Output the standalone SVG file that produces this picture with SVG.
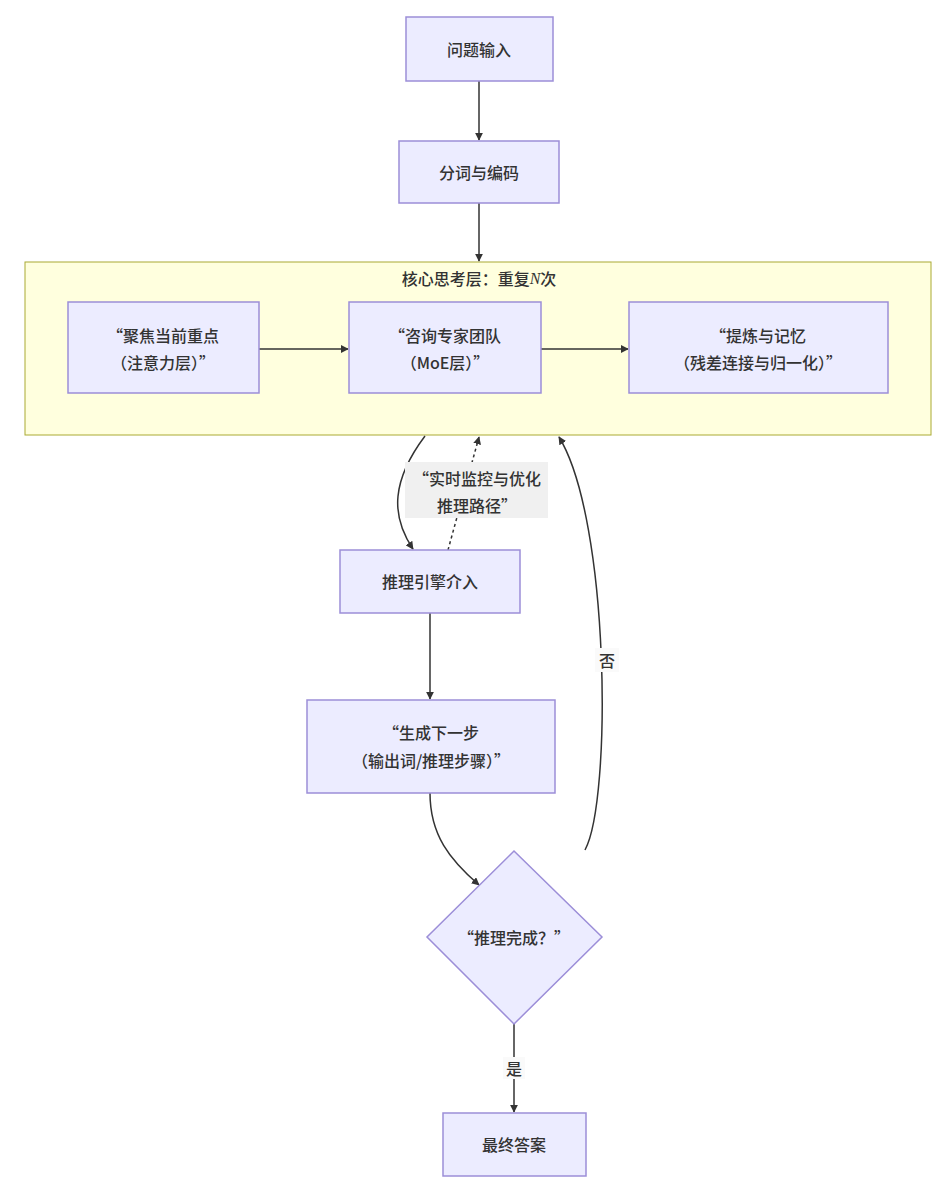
<svg xmlns="http://www.w3.org/2000/svg" width="945" height="1195" viewBox="0 0 945 1195">
<defs>
<marker id="arr" viewBox="0 0 10 10" refX="9" refY="5" markerWidth="8" markerHeight="8" markerUnits="userSpaceOnUse" orient="auto"><path d="M0,0 L10,5 L0,10 z" fill="#333"/></marker>
<style>
.node{fill:#ECECFF;stroke:#9c8ed8;stroke-width:1.5}
.t{font-family:"Noto Sans CJK SC","Noto Sans",sans-serif;font-size:16px;font-weight:500;fill:#333;text-anchor:middle;dominant-baseline:central}
.e{fill:none;stroke:#333;stroke-width:1.5}
.lbl{fill:#f0f0f0}
.lbl2{fill:#fafafa}
</style>
</defs>
<rect width="945" height="1195" fill="#fff"/>
<g id="cluster">
<rect x="25" y="262" width="906" height="173" fill="#ffffde" stroke="#aaaa33" stroke-width="1"/>
<text class="t" x="479" y="278">核心思考层：重复<tspan font-family="Liberation Serif,serif" font-style="italic">N</tspan>次</text>
</g>
<g id="edges">
<path class="e" d="M479,81 L479,140" marker-end="url(#arr)"/>
<path class="e" d="M479,203 L479,261" marker-end="url(#arr)"/>
<path class="e" d="M259,349 L348,349" marker-end="url(#arr)"/>
<path class="e" d="M541,349 L628,349" marker-end="url(#arr)"/>
<path class="e" d="M425,436 C392,480 390,515 413,549" marker-end="url(#arr)"/>
<path class="e" d="M448,550 L479,437" stroke-dasharray="3,3" marker-end="url(#arr)"/>
<path class="e" d="M430,613 L430,699" marker-end="url(#arr)"/>
<path class="e" d="M430,793 C430,835 450,860 479,885" marker-end="url(#arr)"/>
<path class="e" d="M585,850 C612,800 610,520 559,437" marker-end="url(#arr)"/>
<path class="e" d="M514,1024 L514,1112" marker-end="url(#arr)"/>
<rect class="lbl" x="405" y="462" width="143" height="56"/>
<text class="t" x="477" y="478">“实时监控与优化</text>
<text class="t" x="477" y="505">推理路径”</text>
<rect class="lbl2" x="503" y="1057" width="22" height="22"/>
<text class="t" x="514" y="1068">是</text>
<rect class="lbl2" x="595" y="648" width="24" height="24"/>
<text class="t" x="607" y="660">否</text>
</g>
<g id="n1"><rect class="node" x="406" y="17" width="147" height="64"/><text class="t" x="479" y="49">问题输入</text></g>
<g id="n2"><rect class="node" x="399" y="141" width="160" height="62"/><text class="t" x="479" y="172">分词与编码</text></g>
<g id="n3"><rect class="node" x="68" y="302" width="191" height="91"/><text class="t" x="163" y="335">“聚焦当前重点</text><text class="t" x="163" y="362">（注意力层）”</text></g>
<g id="n4"><rect class="node" x="349" y="302" width="192" height="91"/><text class="t" x="445" y="335">“咨询专家团队</text><text class="t" x="445" y="362">（MoE层）”</text></g>
<g id="n5"><rect class="node" x="629" y="302" width="259" height="91"/><text class="t" x="758" y="335">“提炼与记忆</text><text class="t" x="758" y="362">（残差连接与归一化）”</text></g>
<g id="n6"><rect class="node" x="340" y="550" width="180" height="63"/><text class="t" x="430" y="581">推理引擎介入</text></g>
<g id="n7"><rect class="node" x="307" y="700" width="248" height="93"/><text class="t" x="431" y="732">“生成下一步</text><text class="t" x="431" y="760">（输出词/推理步骤）”</text></g>
<g id="n8"><polygon class="node" points="514,851 602,937 514,1024 427,937"/><text class="t" x="514" y="937">“推理完成？”</text></g>
<g id="n9"><rect class="node" x="443" y="1113" width="143" height="63"/><text class="t" x="514" y="1144">最终答案</text></g>
</svg>
